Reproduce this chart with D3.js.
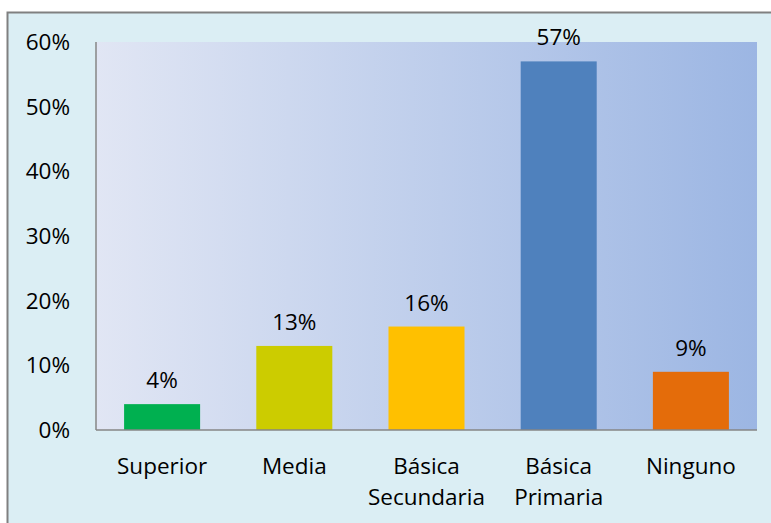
<!DOCTYPE html>
<html lang="es">
<head>
<meta charset="UTF-8">
<title>Nivel educativo</title>
<script src="https://cdn.jsdelivr.net/npm/d3@7"></script>
<style>
  body { margin: 0; background: #ffffff; }
  text { font-family: "Open Sans", sans-serif; fill: #000; }
</style>
</head>
<body>
<div id="chart"></div>
<script>
// datos
var categories = ["Superior", "Media", "Básica Secundaria", "Básica Primaria", "Ninguno"];
var values = [4, 13, 16, 57, 9];
var barColors = ["#00b050", "#cccc00", "#ffc000", "#4f81bd", "#e46c0a"];
var yTicks = [0, 10, 20, 30, 40, 50, 60];

var w = 771, h = 523;
var pLeft = 96, pRight = 757, pTop = 42, pBottom = 430;
var fs = "22.5px";

var svg = d3.select("#chart").append("svg")
    .attr("width", w)
    .attr("height", h);

// chart area background + border
svg.append("rect")
    .attr("x", 7.5).attr("y", 12.5)
    .attr("width", w).attr("height", h)
    .attr("fill", "#dbeef4")
    .attr("stroke", "#808080")
    .attr("stroke-width", 2);

var defs = svg.append("defs");
var grad = defs.append("linearGradient")
    .attr("id", "plotGrad")
    .attr("x1", "0%").attr("x2", "100%")
    .attr("y1", "0%").attr("y2", "0%");
grad.append("stop").attr("offset", "0%").attr("stop-color", "#e1e6f4");
grad.append("stop").attr("offset", "100%").attr("stop-color", "#9cb6e3");

svg.append("rect")
    .attr("x", pLeft).attr("y", pTop)
    .attr("width", pRight - pLeft).attr("height", pBottom - pTop)
    .attr("fill", "url(#plotGrad)");

var x = d3.scaleBand()
    .domain(categories)
    .range([pLeft, pRight])
    .paddingInner(0.425)
    .paddingOuter(0.2125);

var y = d3.scaleLinear()
    .domain([0, 60])
    .range([pBottom, pTop]);

// y tick labels
svg.selectAll(".ytick")
    .data(yTicks)
    .enter()
    .append("text")
    .attr("class", "ytick")
    .attr("x", 70)
    .attr("y", function(d) { return y(d); })
    .attr("dy", "0.35em")
    .attr("text-anchor", "end")
    .attr("font-size", fs)
    .text(function(d) { return d + "%"; });

// bars
svg.selectAll(".bar")
    .data(values)
    .enter()
    .append("rect")
    .attr("class", "bar")
    .attr("x", function(d, i) { return x(categories[i]); })
    .attr("y", function(d) { return y(d); })
    .attr("width", x.bandwidth())
    .attr("height", function(d) { return pBottom - y(d); })
    .attr("fill", function(d, i) { return barColors[i]; });

// value labels
svg.selectAll(".val")
    .data(values)
    .enter()
    .append("text")
    .attr("class", "val")
    .attr("x", function(d, i) { return x(categories[i]) + x.bandwidth() / 2; })
    .attr("y", function(d) { return y(d) - 16; })
    .attr("text-anchor", "middle")
    .attr("font-size", fs)
    .text(function(d) { return d + "%"; });

// axis lines
svg.append("line")
    .attr("x1", pLeft).attr("x2", pLeft)
    .attr("y1", pTop).attr("y2", pBottom)
    .attr("stroke", "#868686").attr("stroke-width", 1.5);
svg.append("line")
    .attr("x1", pLeft).attr("x2", pRight)
    .attr("y1", pBottom).attr("y2", pBottom)
    .attr("stroke", "#868686").attr("stroke-width", 1.5);

// category labels (wrap on space for two-word labels)
categories.forEach(function(c, i) {
    var words = c.split(" ");
    var t = svg.append("text")
        .attr("x", x(c) + x.bandwidth() / 2)
        .attr("y", 474)
        .attr("text-anchor", "middle")
        .attr("font-size", fs);
    words.forEach(function(wd, j) {
        t.append("tspan")
            .attr("x", x(c) + x.bandwidth() / 2)
            .attr("dy", j == 0 ? 0 : 31)
            .text(wd);
    });
});
</script>
</body>
</html>
